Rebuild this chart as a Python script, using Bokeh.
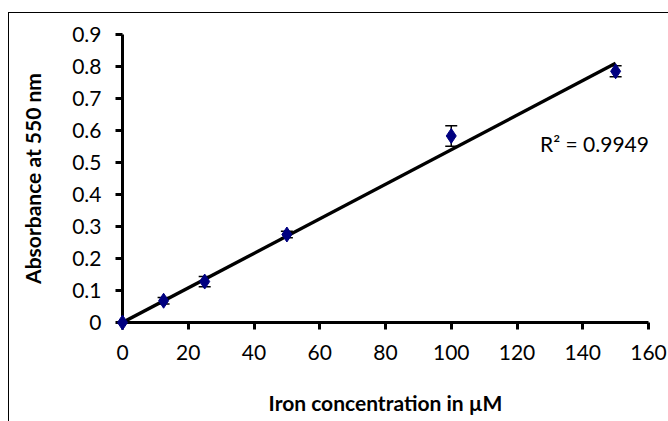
from bokeh.plotting import figure
from bokeh.models import ColumnDataSource, Whisker, Label, FixedTicker, TeeHead
from bokeh.embed import file_html
from bokeh.resources import INLINE

# Data
conc = [0, 12.5, 25, 50, 100, 150]
absorb = [0.0, 0.068, 0.128, 0.275, 0.583, 0.785]
err = [0.004, 0.010, 0.016, 0.010, 0.032, 0.017]
trend_x = [0, 150]
trend_y = [0.0, 0.81]
x_ticks = [0, 20, 40, 60, 80, 100, 120, 140, 160]
y_ticks = [0, 0.1, 0.2, 0.3, 0.4, 0.5, 0.6, 0.7, 0.8, 0.9]
y_tick_labels = ["0", "0.1", "0.2", "0.3", "0.4", "0.5", "0.6", "0.7", "0.8", "0.9"]
r2_text = "R² = 0.9949"

FONT = "Lato"

src = ColumnDataSource(dict(
    x=conc, y=absorb,
    upper=[a + e for a, e in zip(absorb, err)],
    lower=[a - e for a, e in zip(absorb, err)],
))

p = figure(width=660, height=409, x_range=(0, 160), y_range=(0, 0.9),
           output_backend="svg", toolbar_location=None,
           min_border_left=113, min_border_right=21, min_border_top=21, min_border_bottom=100)
p.styles = {"margin-left": "8px", "margin-top": "12px",
            "border-left": "1px solid black", "border-top": "1px solid black"}
p.outline_line_color = None
p.grid.visible = False
p.background_fill_color = "white"
p.border_fill_color = "white"

p.line(trend_x, trend_y, line_color="black", line_width=3.4)
p.add_layout(Whisker(source=src, base="x", upper="upper", lower="lower",
                     line_color="black", line_width=1.5,
                     upper_head=TeeHead(size=12, line_color="black", line_width=1.5),
                     lower_head=TeeHead(size=12, line_color="black", line_width=1.5)))
p.scatter("x", "y", source=src, marker="diamond", size=15,
          fill_color="#000080", line_color="#000080", level="overlay")

for ax in (p.xaxis[0], p.yaxis[0]):
    ax.axis_line_width = 3
    ax.axis_line_color = "black"
    ax.major_tick_line_width = 3
    ax.major_tick_line_color = "black"
    ax.major_tick_in = 0
    ax.major_tick_out = 7
    ax.minor_tick_line_color = None
    ax.major_label_text_font = FONT
    ax.major_label_text_font_size = "21px"
    ax.major_label_text_color = "black"
    ax.axis_label_text_font = FONT
    ax.axis_label_text_font_size = "21px"
    ax.axis_label_text_font_style = "bold"
    ax.axis_label_text_color = "black"

p.xaxis.ticker = FixedTicker(ticks=x_ticks)
p.yaxis.ticker = FixedTicker(ticks=y_ticks)
p.yaxis.major_label_overrides = {t: l for t, l in zip(y_ticks, y_tick_labels)}
p.xaxis.major_label_standoff = 15
p.yaxis.major_label_standoff = 14
p.xaxis.axis_label = "Iron concentration in µM"
p.yaxis.axis_label = "Absorbance at 550 nm"
p.xaxis.axis_label_standoff = 27
p.yaxis.axis_label_standoff = 24

p.add_layout(Label(x=127, y=0.56, text=r2_text, text_font=FONT, text_font_size="21px",
                   text_color="black", text_baseline="middle", text_align="left"))

open("out.html", "w").write(file_html(p, INLINE))
